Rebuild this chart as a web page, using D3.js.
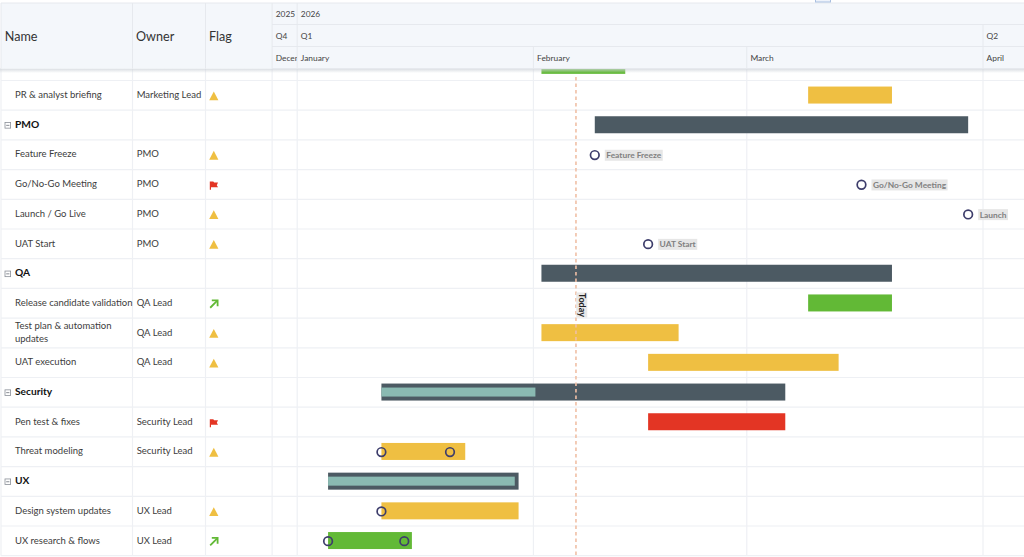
<!doctype html>
<html lang="en">
  <head>
    <meta charset="utf-8">
    <title>Project gantt</title>
    <script src="https://d3js.org/d3.v7.min.js"></script>
    <style>
      html, body { margin: 0; background: #fff; overflow: hidden; }
      svg { display: block; font-family: Lato, Roboto, sans-serif; }
    </style>
  </head>
  <body>
    <div id="root"></div>
  </body>
  <script>
    // data
    const rowNames = ["", "PR & analyst briefing", "PMO", "Feature Freeze", "Go/No-Go Meeting", "Launch / Go Live", "UAT Start",
      "QA", "Release candidate validation", "Test plan & automation|updates", "UAT execution",
      "Security", "Pen test & fixes", "Threat modeling", "UX", "Design system updates", "UX research & flows"];
    const rowOwners = ["", "Marketing Lead", "", "PMO", "PMO", "PMO", "PMO",
      "", "QA Lead", "QA Lead", "QA Lead",
      "", "Security Lead", "Security Lead", "", "UX Lead", "UX Lead"];
    const rowFlags = ["", "warn", "", "warn", "flag", "warn", "warn",
      "", "up", "warn", "warn",
      "", "flag", "warn", "", "warn", "up"];
    const groupRows = ["PMO", "QA", "Security", "UX"];

    const barRows = ["", "PR & analyst briefing", "PMO", "QA", "Release candidate validation", "Test plan & automation|updates", "UAT execution",
      "Security", "Pen test & fixes", "Threat modeling", "UX", "Design system updates", "UX research & flows"];
    const barStarts = ["2026-02-02", "2026-03-09", "2026-02-09", "2026-02-02", "2026-03-09", "2026-02-02", "2026-02-16",
      "2026-01-12", "2026-02-16", "2026-01-12", "2026-01-05", "2026-01-12", "2026-01-05"];
    const barEnds = ["2026-02-13", "2026-03-20", "2026-03-30", "2026-03-20", "2026-03-20", "2026-02-20", "2026-03-13",
      "2026-03-06", "2026-03-06", "2026-01-23", "2026-01-30", "2026-01-30", "2026-01-16"];
    const barStates = ["green", "amber", "group", "group", "green", "amber", "amber",
      "group", "red", "amber", "group", "amber", "green"];

    const progressRows = ["Security", "UX"];
    const progressStarts = ["2026-01-12", "2026-01-05"];
    const progressEnds = ["2026-02-01 05:00", "2026-01-29 12:00"];

    const markerRows = ["Feature Freeze", "Go/No-Go Meeting", "Launch / Go Live", "UAT Start",
      "Threat modeling", "Threat modeling", "Design system updates", "UX research & flows", "UX research & flows"];
    const markerDates = ["2026-02-09", "2026-03-16", "2026-03-30", "2026-02-16",
      "2026-01-12", "2026-01-21", "2026-01-12", "2026-01-05", "2026-01-15"];
    const markerLabels = ["Feature Freeze", "Go/No-Go Meeting", "Launch", "UAT Start", "", "", "", "", ""];

    const yearStarts = ["2025-12-28 17:00", "2026-01-01"];
    const yearLabels = ["2025", "2026"];
    const quarterStarts = ["2025-12-28 17:00", "2026-01-01", "2026-04-01"];
    const quarterLabels = ["Q4", "Q1", "Q2"];
    const monthStarts = ["2025-12-28 17:00", "2026-01-01", "2026-02-01", "2026-03-01", "2026-04-01"];
    const monthLabels = ["December", "January", "February", "March", "April"];
    const today = "2026-02-06 14:00";

    // constants
    const width = 1024;
    const height = 557;
    const columnEdges = [1, 132.5, 205.5];
    const columnTitles = ["Name", "Owner", "Flag"];
    const headerTop = 3;
    const headerBottom = 68.5;
    const colors = { green: "#62b936", amber: "#efbf42", group: "#4c5a63", red: "#e33524" };
    const lineColor = "#eef0f4";

    const parse = s => new Date(s.length > 10 ? s.replace(" ", "T") : s + "T00:00");
    const x = d3.scaleTime()
      .domain([parse("2026-01-01"), parse("2026-04-01")])
      .range([297.2, 983]);
    // bars sit a touch right of the day gridlines
    const xBar = s => x(parse(s)) + 0.4;
    const y = d3.scaleBand()
      .domain(rowNames)
      .range([50.8, 555.7]);
    const rowH = y.bandwidth();

    const svg = d3.select("#root").append("svg")
      .attr("width", width)
      .attr("height", height);

    const defs = svg.append("defs");
    const shadow = defs.append("linearGradient").attr("id", "hdrShadow")
      .attr("x1", 0).attr("x2", 0).attr("y1", 0).attr("y2", 1);
    shadow.append("stop").attr("offset", 0).attr("stop-color", "#cfd4da").attr("stop-opacity", 0.8);
    shadow.append("stop").attr("offset", 1).attr("stop-color", "#cfd4da").attr("stop-opacity", 0);

    // row lines and column lines
    svg.append("g").selectAll("line")
      .data(rowNames)
      .enter().append("line")
      .attr("x1", 1).attr("x2", width)
      .attr("y1", d => y(d) + rowH).attr("y2", d => y(d) + rowH)
      .attr("stroke", lineColor).attr("stroke-width", 1.2);

    svg.append("g").selectAll("line")
      .data(columnEdges.concat(monthStarts.map(d => x(parse(d)))))
      .enter().append("line")
      .attr("x1", d => d).attr("x2", d => d)
      .attr("y1", headerBottom).attr("y2", 555.7)
      .attr("stroke", lineColor).attr("stroke-width", 1.2);

    // table text
    const nameText = svg.append("g").selectAll("text")
      .data(rowNames)
      .enter().append("text")
      .attr("x", 15)
      .attr("y", d => y(d) + rowH / 2 + 2.7)
      .attr("font-size", d => groupRows.includes(d) ? 10.2 : 9.5)
      .attr("font-weight", d => groupRows.includes(d) ? 700 : 400)
      .attr("fill", d => groupRows.includes(d) ? "#111" : "#3c3c3c");
    nameText.each(function(d) {
      const parts = d.split("|");
      d3.select(this).selectAll("tspan")
        .data(parts)
        .enter().append("tspan")
        .attr("x", 15)
        .attr("dy", (p, i) => i === 0 ? (parts.length > 1 ? -6.5 : 0) : 13)
        .text(p => p);
    });

    svg.append("g").selectAll("text")
      .data(rowOwners)
      .enter().append("text")
      .attr("x", 136.7)
      .attr("y", (d, i) => y(rowNames[i]) + rowH / 2 + 2.7)
      .attr("font-size", 9.5)
      .attr("fill", "#3c3c3c")
      .text(d => d);

    // collapse boxes on group rows
    const box = svg.append("g").selectAll("g")
      .data(groupRows)
      .enter().append("g")
      .attr("transform", d => `translate(7.8,${y(d) + rowH / 2 + 0.3})`);
    box.append("rect")
      .attr("x", -2.8).attr("y", -2.8).attr("width", 5.6).attr("height", 5.6)
      .attr("fill", "#fff").attr("stroke", "#8a8f98").attr("stroke-width", 0.8);
    box.append("line")
      .attr("x1", -1.6).attr("x2", 1.6)
      .attr("stroke", "#6b7078").attr("stroke-width", 0.8);

    // flags
    const flagG = svg.append("g").selectAll("g")
      .data(rowFlags)
      .enter().append("g")
      .attr("transform", (d, i) => `translate(213.8,${y(rowNames[i]) + rowH / 2 + 0.9})`);
    flagG.filter(d => d === "warn").append("path")
      .attr("d", "M0,-4.8L4.6,4L-4.6,4Z")
      .attr("fill", colors.amber);
    flagG.filter(d => d === "flag").append("path")
      .attr("d", "M-4,-3.8L-0.5,-3.8L0.3,-2.8L4.2,-2.8L3,-0.2L4.2,1.8L-2.8,1.8L-2.8,4.4L-4,4.4Z")
      .attr("fill", colors.red);
    flagG.filter(d => d === "up").append("path")
      .attr("d", "M-2,-3.8L3.8,-3.8L3.8,2")
      .attr("fill", "none").attr("stroke", colors.green).attr("stroke-width", 1.8);
    flagG.filter(d => d === "up").append("line")
      .attr("x1", -3.6).attr("y1", 3.6).attr("x2", 3.2).attr("y2", -3.2)
      .attr("stroke", colors.green).attr("stroke-width", 1.8);

    // bars
    const barH = 17;
    const barTop = r => y(r) + rowH / 2 - barH / 2 - 0.3;
    svg.append("g").selectAll("rect")
      .data(barRows)
      .enter().append("rect")
      .attr("x", (d, i) => xBar(barStarts[i]))
      .attr("y", d => barTop(d))
      .attr("width", (d, i) => xBar(barEnds[i]) - xBar(barStarts[i]))
      .attr("height", barH)
      .attr("fill", (d, i) => colors[barStates[i]]);

    svg.append("g").selectAll("rect")
      .data(progressRows)
      .enter().append("rect")
      .attr("x", (d, i) => xBar(progressStarts[i]))
      .attr("y", d => barTop(d) + 4)
      .attr("width", (d, i) => xBar(progressEnds[i]) - xBar(progressStarts[i]))
      .attr("height", barH - 8)
      .attr("fill", "#8abab2");

    // today line
    svg.append("line")
      .attr("x1", x(parse(today))).attr("x2", x(parse(today)))
      .attr("y1", 77).attr("y2", 555.7)
      .attr("stroke", "#f0bfa5").attr("stroke-width", 1.6)
      .attr("stroke-dasharray", "3.5 3");
    const todayG = svg.append("g")
      .attr("transform", `translate(${x(parse(today)) + 5.8},305)`);
    todayG.append("rect")
      .attr("x", -12.5).attr("y", -5.5).attr("width", 25).attr("height", 11)
      .attr("transform", "rotate(90)")
      .attr("fill", "#e8e8e8");
    todayG.append("text")
      .attr("transform", "rotate(90)")
      .attr("text-anchor", "middle").attr("y", 3)
      .attr("font-size", 9).attr("font-weight", 700)
      .attr("fill", "#222")
      .text("Today");

    // milestones
    svg.append("g").selectAll("circle")
      .data(markerRows)
      .enter().append("circle")
      .attr("cx", (d, i) => xBar(markerDates[i]))
      .attr("cy", d => y(d) + rowH / 2 + 0.3)
      .attr("r", 4.3)
      .attr("fill", "none")
      .attr("stroke", "#3d3d6b").attr("stroke-width", 1.7);

    const labelG = svg.append("g").selectAll("g")
      .data(markerLabels.filter(d => d))
      .enter().append("g")
      .attr("transform", (d, i) => `translate(${xBar(markerDates[i]) + 11.5},${y(markerRows[i]) + rowH / 2 + 0.5})`);
    const labelText = labelG.append("text")
      .attr("y", 3)
      .attr("font-size", 8.4).attr("font-weight", 700)
      .attr("fill", "#808080")
      .text(d => d);
    labelG.insert("rect", "text")
      .attr("x", -1.5).attr("y", -5.5)
      .attr("width", (d, i) => labelText.nodes()[i].getComputedTextLength() + 3)
      .attr("height", 11)
      .attr("fill", "#e6e6e6");

    // header
    svg.append("rect")
      .attr("x", 0).attr("y", headerBottom).attr("width", width).attr("height", 4.5)
      .attr("fill", "url(#hdrShadow)");
    svg.append("rect")
      .attr("x", 1).attr("y", headerTop).attr("width", width - 1).attr("height", headerBottom - headerTop)
      .attr("fill", "#f4f7fb");

    const tierRows = [
      { top: 3, bottom: 24.5, starts: yearStarts, labels: yearLabels },
      { top: 24.5, bottom: 46.5, starts: quarterStarts, labels: quarterLabels },
      { top: 46.5, bottom: 68.5, starts: monthStarts, labels: monthLabels }
    ];
    const clip = defs.append("clipPath").attr("id", "decClip");
    clip.append("rect").attr("x", 272).attr("y", 0).attr("width", 25).attr("height", 70);

    tierRows.forEach(t => {
      const g = svg.append("g");
      g.selectAll("line")
        .data(t.starts)
        .enter().append("line")
        .attr("x1", d => x(parse(d))).attr("x2", d => x(parse(d)))
        .attr("y1", t.top).attr("y2", t.bottom)
        .attr("stroke", "#e6e9ee");
      g.append("line")
        .attr("x1", 272).attr("x2", width)
        .attr("y1", t.bottom).attr("y2", t.bottom)
        .attr("stroke", "#e6e9ee");
      g.selectAll("text")
        .data(t.labels)
        .enter().append("text")
        .attr("x", (d, i) => x(parse(t.starts[i])) + 3.6)
        .attr("y", (t.top + t.bottom) / 2 + 3.2)
        .attr("font-size", 8.4)
        .attr("fill", "#444")
        .attr("clip-path", d => d === "December" ? "url(#decClip)" : null)
        .text(d => d);
    });

    svg.append("line")
      .attr("x1", 1).attr("x2", width)
      .attr("y1", headerTop).attr("y2", headerTop)
      .attr("stroke", "#e6e9ee");
    svg.append("g").selectAll("line")
      .data(columnEdges)
      .enter().append("line")
      .attr("x1", d => d).attr("x2", d => d)
      .attr("y1", headerTop).attr("y2", headerBottom)
      .attr("stroke", "#e6e9ee");
    svg.append("g").selectAll("text")
      .data(columnTitles)
      .enter().append("text")
      .attr("x", (d, i) => columnEdges[i] + (i === 0 ? 3.8 : 3.5))
      .attr("y", 40.5)
      .attr("font-size", 12.6)
      .attr("fill", "#333")
      .text(d => d);

    // scrap of the toolbar cut off by the top of the page
    svg.append("rect")
      .attr("x", 815.5).attr("y", -3).attr("width", 15).attr("height", 5)
      .attr("fill", "#eef3fb").attr("stroke", "#a9bfe0");
  </script>
</html>
